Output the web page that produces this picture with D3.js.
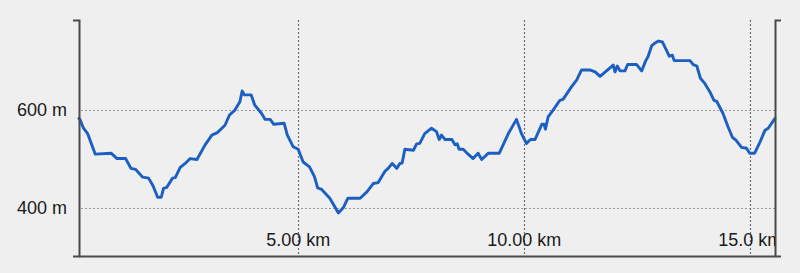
<!DOCTYPE html>
<html>
<head>
<meta charset="utf-8">
<script src="https://cdn.jsdelivr.net/npm/d3@7"></script>
<style>
  html, body { margin: 0; padding: 0; background: #efefef; }
  svg { display: block; }
  text { font-family: "Liberation Sans", Arial, sans-serif; }
</style>
</head>
<body>
<script>
// ---- Data ----
const distanceKm = [
  0.16, 0.18, 0.26, 0.35, 0.52, 0.87, 1.00, 1.19, 1.31, 1.41, 1.57, 1.70, 1.80, 1.90, 1.98,
  2.03, 2.10, 2.23, 2.29, 2.40, 2.51, 2.62, 2.77, 2.95, 3.10, 3.22, 3.39, 3.49, 3.61, 3.72,
  3.77, 3.82, 3.97, 4.05, 4.20, 4.28, 4.39, 4.47, 4.70, 4.77, 4.90, 5.01, 5.12, 5.26, 5.37,
  5.44, 5.53, 5.71, 5.90, 6.01, 6.11, 6.38, 6.53, 6.67, 6.78, 6.93, 7.00, 7.09, 7.19, 7.26,
  7.31, 7.37, 7.56, 7.63, 7.70, 7.81, 7.96, 8.07, 8.13, 8.18, 8.26, 8.41, 8.48, 8.53, 8.57,
  8.66, 8.77, 8.88, 8.99, 9.07, 9.22, 9.46, 9.66, 9.84, 9.95, 10.06, 10.15, 10.25, 10.40, 10.45,
  10.48, 10.54, 10.65, 10.80, 10.87, 11.06, 11.17, 11.28, 11.46, 11.58, 11.69, 11.98, 12.02, 12.07, 12.13,
  12.24, 12.30, 12.50, 12.61, 12.70, 12.75, 12.83, 12.89, 12.98, 13.07, 13.16, 13.22, 13.29, 13.33, 13.68,
  13.75, 13.83, 13.91, 14.01, 14.12, 14.21, 14.27, 14.41, 14.52, 14.62, 14.69, 14.82, 14.93, 15.00, 15.11,
  15.23, 15.34, 15.41, 15.56
];
const elevationM = [
  582, 580, 562, 551, 509, 511, 500, 500, 480, 478, 462, 460, 444, 421, 421,
  439, 441, 460, 461, 482, 490, 500, 498, 528, 548, 553, 568, 589, 599, 616,
  638, 630, 630, 609, 592, 580, 580, 570, 572, 548, 524, 519, 493, 483, 463,
  440, 437, 419, 389, 400, 419, 419, 432, 449, 451, 474, 480, 490, 480, 490,
  491, 519, 517, 530, 531, 551, 562, 555, 539, 548, 539, 539, 528, 530, 519,
  519, 509, 500, 511, 498, 511, 511, 551, 580, 551, 531, 539, 539, 570, 570,
  560, 585, 599, 619, 621, 647, 660, 681, 681, 677, 668, 691, 677, 689, 679,
  679, 692, 692, 679, 700, 708, 730, 735, 740, 738, 721, 709, 711, 700, 700,
  692, 689, 664, 653, 636, 619, 617, 592, 565, 543, 538, 523, 521, 511, 511,
  534, 558, 562, 582
];
const yTickValues = [400, 600];
const yTickLabels = ["400 m", "600 m"];
const xTickValues = [5, 10, 15];
const xTickLabels = ["5.00 km", "10.00 km", "15.0 km"];
const xDomain = [0.16, 15.56];
const yDomain = [301, 783];

// ---- Layout ----
const W = 800, H = 273;
const margin = { left: 79, right: 25, top: 20, bottom: 17 };
const iw = W - margin.left - margin.right;
const ih = H - margin.top - margin.bottom;

const svg = d3.select("body").append("svg").attr("width", W).attr("height", H);
svg.append("rect").attr("width", W).attr("height", H).attr("fill", "#efefef");

const defs = svg.append("defs");
defs.append("clipPath").attr("id", "plotclip")
  .append("rect").attr("x", 0).attr("y", -30).attr("width", iw).attr("height", ih + 60);

const g = svg.append("g").attr("transform", `translate(${margin.left},${margin.top})`);

const x = d3.scaleLinear().domain(xDomain).range([0, iw]);
const y = d3.scaleLinear().domain(yDomain).range([ih, 0]);

// Gridlines
g.append("g").selectAll("line.h").data(yTickValues).join("line")
  .attr("x1", 2).attr("x2", iw)
  .attr("y1", d => Math.round(y(d)) + 0.5).attr("y2", d => Math.round(y(d)) + 0.5)
  .attr("stroke", "#9a9a9a").attr("stroke-width", 1.2).attr("stroke-dasharray", "2,2");

g.append("g").selectAll("line.v").data(xTickValues).join("line")
  .attr("x1", d => Math.round(x(d)) + 0.5).attr("x2", d => Math.round(x(d)) + 0.5)
  .attr("y1", 0).attr("y2", ih)
  .attr("stroke", "#707070").attr("stroke-width", 1.2).attr("stroke-dasharray", "2,2");

// Line
const line = d3.line().x((d, i) => x(distanceKm[i])).y(d => y(d));
g.append("path").datum(elevationM)
  .attr("d", line)
  .attr("fill", "none")
  .attr("stroke", "#1c5fc2")
  .attr("stroke-width", 2.9)
  .attr("stroke-linejoin", "round")
  .attr("stroke-linecap", "round");

// Axes
const axisColor = "#4a4a4a";
const yAxisL = g.append("g").call(
  d3.axisLeft(y).tickValues(yTickValues)
    .tickFormat((d, i) => yTickLabels[i])
    .tickSizeInner(0).tickSizeOuter(6).tickPadding(12)
);
const yAxisR = g.append("g").attr("transform", `translate(${iw},0)`).call(
  d3.axisRight(y).tickValues([]).tickSizeInner(0).tickSizeOuter(6)
);
const xAxis = g.append("g").attr("transform", `translate(0,${ih})`).call(
  d3.axisTop(x).tickValues(xTickValues)
    .tickFormat((d, i) => xTickLabels[i])
    .tickSizeInner(0).tickSizeOuter(0).tickPadding(10)
);
xAxis.attr("clip-path", "url(#plotclip)");

[yAxisL, yAxisR, xAxis].forEach(a => {
  a.select(".domain").attr("stroke", axisColor).attr("stroke-width", 2);
  a.selectAll(".tick line").remove();
  a.selectAll("text")
    .attr("fill", "#1a1a1a")
    .style("font-family", '"Liberation Sans", Arial, sans-serif')
    .style("font-size", "18px");
});
yAxisL.selectAll("text").attr("dy", "0.35em");
</script>
</body>
</html>
